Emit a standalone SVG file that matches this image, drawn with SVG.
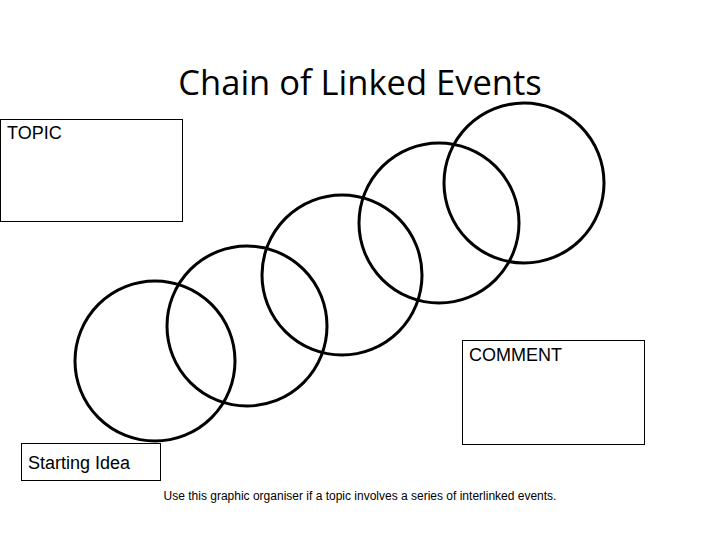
<svg xmlns="http://www.w3.org/2000/svg" width="720" height="540" viewBox="0 0 720 540">
<style>
.c{fill:none;stroke:#000;stroke-width:3}
.b{fill:#fff;stroke:#000;stroke-width:1}
.t{font-family:"Liberation Sans",Arial,sans-serif;font-size:18px;fill:#000}
</style>
<rect width="720" height="540" fill="#fff"/>
<text x="360" y="95" text-anchor="middle" font-family="Open Sans,Liberation Sans,sans-serif" font-size="34.5" fill="#000">Chain of Linked Events</text>
<g id="connectors"></g>
<g id="circle1"><circle class="c" cx="155" cy="361" r="80"/></g>
<g id="circle2"><circle class="c" cx="247" cy="326" r="80"/></g>
<g id="circle3"><circle class="c" cx="342" cy="275" r="80"/></g>
<g id="circle4"><circle class="c" cx="439" cy="223" r="80"/></g>
<g id="circle5"><circle class="c" cx="524" cy="183" r="80"/></g>
<g id="topic"><rect class="b" x="0.5" y="119.5" width="182" height="102"/><text class="t" x="7" y="139">TOPIC</text></g>
<g id="comment"><rect class="b" x="462.5" y="340.5" width="182" height="104"/><text class="t" x="469" y="361">COMMENT</text></g>
<g id="start"><rect class="b" x="21.5" y="443.5" width="139" height="37"/><text class="t" x="28" y="469">Starting Idea</text></g>
<text x="360" y="500" text-anchor="middle" font-family="Liberation Sans,Arial,sans-serif" font-size="12" fill="#000">Use this graphic organiser if a topic involves a series of interlinked events.</text>
</svg>
